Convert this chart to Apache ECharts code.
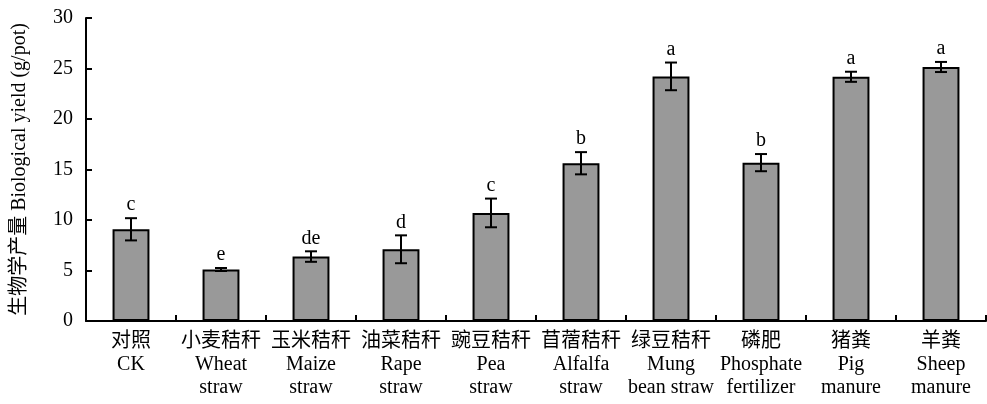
<!DOCTYPE html>
<html>
<head>
<meta charset="utf-8">
<script src="https://cdn.jsdelivr.net/npm/echarts@6/dist/echarts.min.js"></script>
<style>
html,body{margin:0;padding:0;background:#fff;}
#c{width:987px;height:404px;}
</style>
</head>
<body>
<div id="c"></div>
<script>
var cnLabels = ['对照','小麦秸秆','玉米秸秆','油菜秸秆','豌豆秸秆','苜蓿秸秆','绿豆秸秆','磷肥','猪粪','羊粪'];
var enLabels = ['CK','Wheat\nstraw','Maize\nstraw','Rape\nstraw','Pea\nstraw','Alfalfa\nstraw','Mung\nbean straw','Phosphate\nfertilizer','Pig\nmanure','Sheep\nmanure'];
var yieldValues = [9.08, 5.10, 6.38, 7.10, 10.70, 15.62, 24.22, 15.68, 24.18, 25.15];
var errValues = [1.10, 0.15, 0.52, 1.38, 1.42, 1.10, 1.37, 0.85, 0.50, 0.50];
var sigLetters = ['c','e','de','d','c','b','a','b','a','a'];
var yTicks = [0, 5, 10, 15, 20, 25, 30];

var FONT = '"Liberation Serif", "Times New Roman", "Noto Sans CJK SC", serif';
var categories = cnLabels.map(function (c, i) { return c + '\n' + enLabels[i]; });
var errData = yieldValues.map(function (v, i) { return [i, v, errValues[i], sigLetters[i]]; });

var chart = echarts.init(document.getElementById('c'));
chart.setOption({
  animation: false,
  grid: { left: 86, right: 1, top: 18, bottom: 83 },
  xAxis: {
    type: 'category',
    data: categories,
    axisLine: { lineStyle: { color: '#000', width: 2 } },
    axisTick: { show: true, inside: true, length: 6, lineStyle: { color: '#000', width: 2 } },
    axisLabel: { interval: 0, color: '#000', fontFamily: FONT, fontSize: 20, lineHeight: 23, margin: 9 }
  },
  yAxis: {
    type: 'value',
    min: yTicks[0],
    max: yTicks[yTicks.length - 1],
    interval: 5,
    name: '生物学产量 Biological yield (g/pot)',
    nameLocation: 'middle',
    nameRotate: 90,
    nameGap: 56,
    nameTextStyle: { color: '#000', fontFamily: FONT, fontSize: 20 },
    splitLine: { show: false },
    axisLine: { show: true, lineStyle: { color: '#000', width: 2 } },
    axisTick: { show: true, inside: true, length: 6, lineStyle: { color: '#000', width: 2 } },
    axisLabel: { color: '#000', fontFamily: FONT, fontSize: 20, margin: 13 }
  },
  series: [
    {
      type: 'bar',
      data: yieldValues,
      barWidth: '41%',
      itemStyle: { color: '#999999', borderColor: '#000', borderWidth: 2 },
      z: 2
    },
    {
      type: 'custom',
      data: errData,
      z: 5,
      renderItem: function (params, api) {
        var i = api.value(0), v = api.value(1), e = api.value(2);
        var top = api.coord([i, v + e]);
        var bot = api.coord([i, v - e]);
        var hw = 6;
        var style = { stroke: '#000', lineWidth: 2 };
        return {
          type: 'group',
          children: [
            { type: 'line', shape: { x1: top[0], y1: top[1], x2: bot[0], y2: bot[1] }, style: style },
            { type: 'line', shape: { x1: top[0] - hw, y1: top[1], x2: top[0] + hw, y2: top[1] }, style: style },
            { type: 'line', shape: { x1: bot[0] - hw, y1: bot[1], x2: bot[0] + hw, y2: bot[1] }, style: style },
            { type: 'text', style: { text: sigLetters[params.dataIndex], x: top[0], y: top[1] - 3, textAlign: 'center', textVerticalAlign: 'bottom', fill: '#000', font: '20px ' + FONT } }
          ]
        };
      }
    }
  ]
});
</script>
</body>
</html>
